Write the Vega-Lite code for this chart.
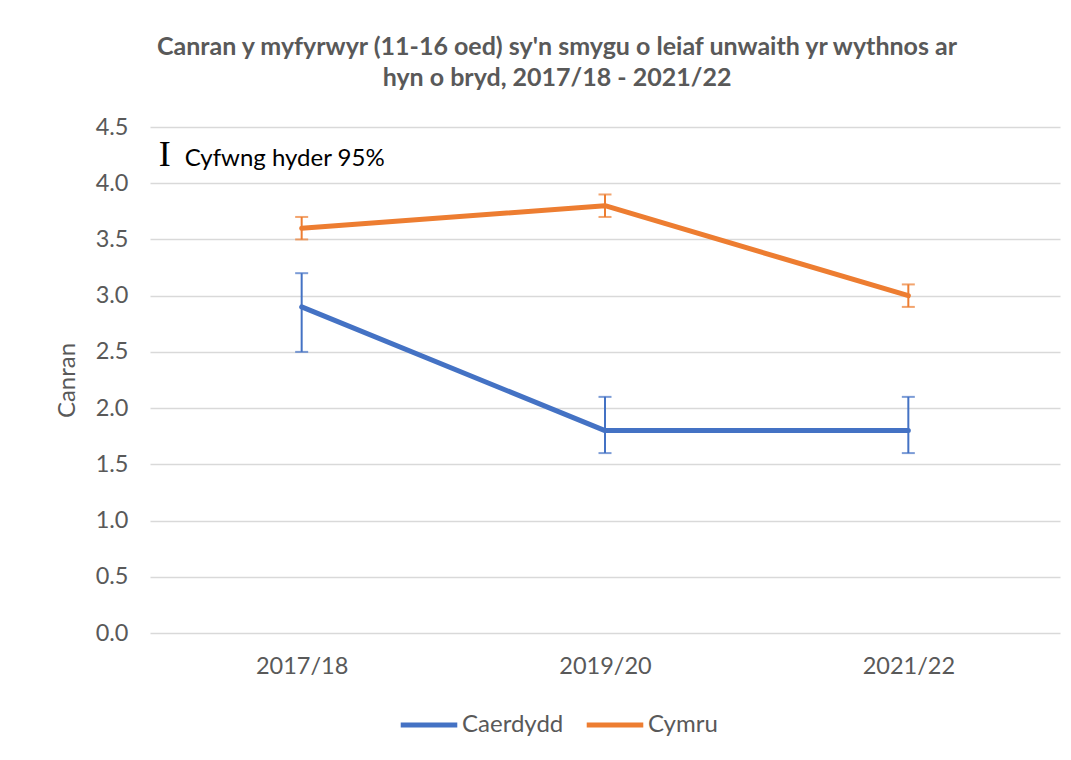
{
  "$schema": "https://vega.github.io/schema/vega-lite/v6.json",
  "width": 910,
  "height": 506,
  "autosize": "none",
  "padding": {"left": 150, "top": 127, "right": 11, "bottom": 127},
  "background": "#ffffff",
  "config": {
    "font": "Lato",
    "view": {"stroke": null},
    "axis": {
      "labelFont": "Lato",
      "labelFontSize": 23.5,
      "labelColor": "#595959",
      "titleFont": "Lato",
      "titleFontSize": 24,
      "titleColor": "#595959",
      "titleFontWeight": "normal"
    },
    "legend": {
      "labelFont": "Lato",
      "labelFontSize": 24,
      "labelColor": "#595959",
      "symbolType": "stroke",
      "symbolStrokeWidth": 5,
      "symbolSize": 3200,
      "symbolOpacity": 1
    }
  },
  "title": {
    "text": [
      "Canran y myfyrwyr (11-16 oed) sy'n smygu o leiaf unwaith yr wythnos ar",
      "hyn o bryd, 2017/18 - 2021/22"
    ],
    "font": "Lato",
    "fontSize": 25,
    "fontWeight": "bold",
    "color": "#595959",
    "anchor": "middle",
    "lineHeight": 31,
    "dx": -48,
    "offset": 24
  },
  "data": {
    "values": [
      {"year": "2017/18", "area": "Caerdydd", "value": 2.9, "lo": 2.5, "hi": 3.2},
      {"year": "2019/20", "area": "Caerdydd", "value": 1.8, "lo": 1.6, "hi": 2.1},
      {"year": "2021/22", "area": "Caerdydd", "value": 1.8, "lo": 1.6, "hi": 2.1},
      {"year": "2017/18", "area": "Cymru", "value": 3.6, "lo": 3.5, "hi": 3.7},
      {"year": "2019/20", "area": "Cymru", "value": 3.8, "lo": 3.7, "hi": 3.9},
      {"year": "2021/22", "area": "Cymru", "value": 3.0, "lo": 2.9, "hi": 3.1}
    ]
  },
  "encoding": {
    "x": {
      "field": "year",
      "type": "ordinal",
      "scale": {"type": "point", "padding": 0.5},
      "axis": {
        "title": null,
        "labelAngle": 0,
        "domain": false,
        "ticks": false,
        "grid": false,
        "labelPadding": 21
      }
    },
    "color": {
      "field": "area",
      "type": "nominal",
      "scale": {"domain": ["Caerdydd", "Cymru"], "range": ["#4472C4", "#ED7D31"]},
      "legend": {
        "title": null,
        "orient": "none",
        "direction": "horizontal",
        "legendX": 248,
        "legendY": 567,
        "columnPadding": 12,
        "labelOffset": 2,
        "symbolOpacity": 1
      }
    }
  },
  "layer": [
    {
      "mark": {"type": "rule", "strokeWidth": 2},
      "encoding": {
        "y": {
          "field": "lo",
          "type": "quantitative",
          "scale": {"domain": [0, 4.5], "nice": false},
          "axis": {
            "title": "Canran",
            "values": [0, 0.5, 1, 1.5, 2, 2.5, 3, 3.5, 4, 4.5],
            "format": ".1f",
            "domain": false,
            "ticks": false,
            "gridColor": "#D9D9D9",
            "gridWidth": 1.5,
            "labelPadding": 22,
            "titlePadding": 16
          }
        },
        "y2": {"field": "hi"}
      }
    },
    {
      "mark": {"type": "tick", "orient": "horizontal", "size": 13, "thickness": 2},
      "encoding": {"y": {"field": "lo", "type": "quantitative"}}
    },
    {
      "mark": {"type": "tick", "orient": "horizontal", "size": 13, "thickness": 2},
      "encoding": {"y": {"field": "hi", "type": "quantitative"}}
    },
    {
      "mark": {"type": "line", "strokeWidth": 5, "strokeCap": "round", "strokeJoin": "round"},
      "encoding": {"y": {"field": "value", "type": "quantitative"}}
    },
    {
      "data": {"values": [{"sym": "I"}]},
      "mark": {"type": "text", "font": "Liberation Serif", "fontSize": 36, "color": "#000000", "align": "center", "baseline": "alphabetic", "dx": -137},
      "encoding": {
        "x": {"datum": "2017/18"},
        "y": {"datum": 4.15},
        "text": {"field": "sym"},
        "color": null
      }
    },
    {
      "data": {"values": [{"note": "Cyfwng hyder 95%"}]},
      "mark": {"type": "text", "fontSize": 24, "color": "#000000", "align": "left", "baseline": "alphabetic", "dx": -117},
      "encoding": {
        "x": {"datum": "2017/18"},
        "y": {"datum": 4.15},
        "text": {"field": "note"},
        "color": null
      }
    }
  ]
}
